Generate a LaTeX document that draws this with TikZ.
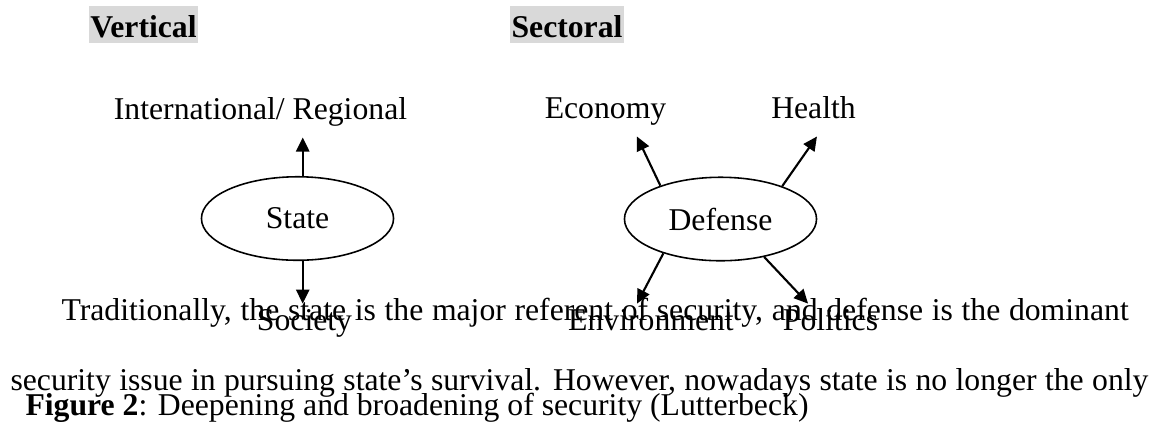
\documentclass[tikz,border=0pt]{standalone}
\usepackage{fontspec}
\setmainfont{Liberation Serif}
\usetikzlibrary{calc,positioning,shapes.geometric,arrows.meta}
\definecolor{boxgray}{RGB}{217,217,217}

\begin{document}
\begin{tikzpicture}[x=0.3785pt,y=-0.3785pt,>={Triangle[length=5.3pt,width=5pt]},
	font=\fontsize{12}{14}\selectfont,
	head/.style={fill=boxgray,font=\fontsize{12}{14}\selectfont\bfseries,inner xsep=0.6pt,inner ysep=0pt,text height=11.7pt,text depth=2.3pt,anchor=base},
	oval/.style={ellipse,draw,line width=0.6pt,minimum width=72.7pt,minimum height=31.6pt,inner sep=0pt},
	lbl/.style={anchor=base,text height=6pt,text depth=3pt,inner ysep=3.8pt},
	arr/.style={->,line width=0.8pt}]
					\useasboundingbox (0,0) rectangle (1156,422);

					\node[head] (vertical) at (143.5,37) {Vertical};
					\node[head] (sectoral) at (567,37) {Sectoral};

					% ellipses
					\node[oval] (state) at (297.5,218.5) {State};
					\node[oval] (defense) at (720.5,219) {Defense};

					% labels
					\node[lbl] (intl) at (260.5,119) {International/ Regional};
					\node[lbl] (economy) at (605.5,118) {Economy};
					\node[lbl] (health) at (813.5,118) {Health};
					\node[lbl] (society) at (304.5,330) {Society};
					\node[lbl] (environment) at (651,330) {Environment};
					\node[lbl] (politics) at (830.5,330) {Politics};

					% arrows
					\draw[arr] (state.83) -- (state.83 |- intl.south);
					\draw[arr] (state.277) -- (state.277 |- society.north);
					\draw[arr] (defense.151) -- ([xshift=11.9pt]economy.south);
					\draw[arr] (defense.28) -- ([xshift=1.3pt]health.south);
					\draw[arr] (defense.211) -- ([xshift=-5.3pt]environment.north);
					\draw[arr] (defense.319) -- ([xshift=-8.5pt]politics.north);

					% running text
					\node[anchor=base west,inner sep=0pt] (line1) at (61,320) {\makebox[403.9pt][s]{Traditionally, the state is the major referent of security, and defense is the dominant}};
					\node[anchor=base west,inner sep=0pt] (line2) at (10,390) {\makebox[430.7pt][s]{security issue in pursuing state’s survival. However, nowadays state is no longer the only}};
					\node[anchor=base west,inner sep=0pt] (caption) at (25,415) {\textbf{Figure 2}: Deepening and broadening of security (Lutterbeck)};
				\end{tikzpicture}
\end{document}
